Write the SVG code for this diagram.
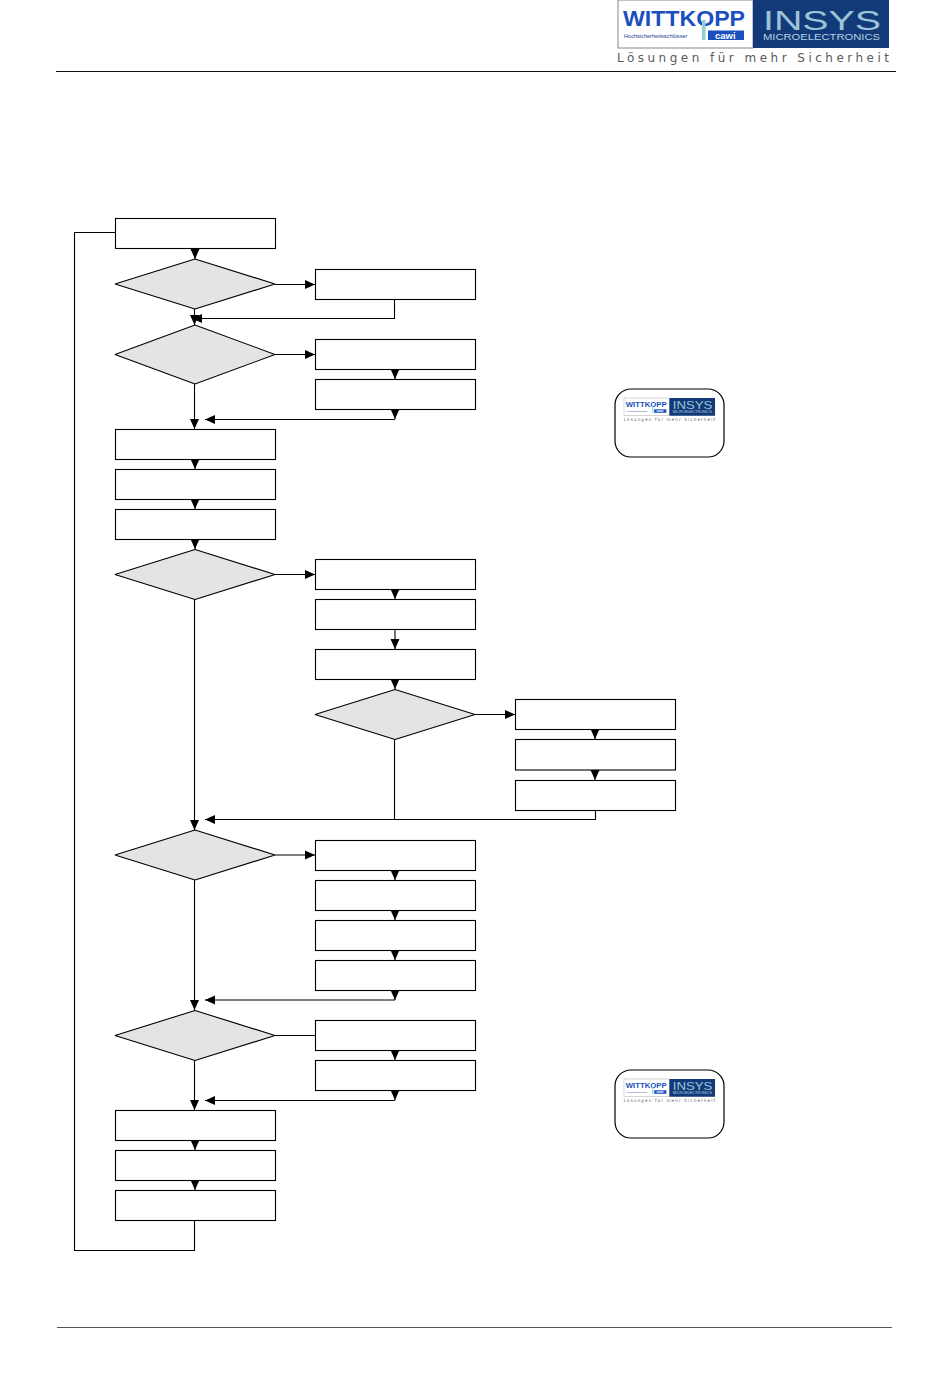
<svg xmlns="http://www.w3.org/2000/svg" width="950" height="1398" viewBox="0 0 950 1398">
<style>
.box{fill:#fff;stroke:#000;stroke-width:1.1}
.dec{fill:#e4e4e4;stroke:#000;stroke-width:1.1;stroke-linejoin:bevel}
.card{fill:#fff;stroke:#000;stroke-width:1.2}
.rule{stroke:#111;stroke-width:1.1;fill:none}
#conn path{fill:none;stroke:#000;stroke-width:1.1}
.a{marker-end:url(#arrow)}
.wit{font:bold 21.500px "Liberation Sans",Arial,sans-serif;fill:#1a4fc0}
.hoch{font:5.600px "Liberation Sans",Arial,sans-serif;fill:#24408a}
.cawi{font:bold 9.500px "Liberation Sans",Arial,sans-serif;fill:#fff}
.ins{font:27px "Liberation Sans",Arial,sans-serif;fill:#9cc3d8}
.mic{font:8.400px "Liberation Sans",Arial,sans-serif;fill:#b5d2e4}
.tag{font:12px "DejaVu Sans",Verdana,sans-serif;fill:#5a5a5a}
</style>
<defs>
<marker id="arrow" markerUnits="userSpaceOnUse" markerWidth="10" markerHeight="10" refX="10" refY="5" orient="auto">
<path d="M0 .5L10 5L0 9.500z" fill="#000"/>
</marker>
<g id="logo">
<rect x="0" y="0" width="135" height="48" fill="#fff" stroke="#8a8a8a"/>
<rect x="135" y="0" width="136" height="48" fill="#123a78"/>
<text class="wit" x="5" y="25.500" textLength="122" lengthAdjust="spacingAndGlyphs">WITTKOPP</text>
<rect x="84" y="20" width="3.500" height="20" fill="#8fd0d0"/>
<text class="hoch" x="6" y="38">Hochsicherheitsschlösser</text>
<rect x="90" y="30.500" width="36" height="9.500" fill="#1a4fc0"/>
<text class="cawi" x="97" y="38.500">cawi</text>
<text class="ins" x="145" y="29.500" textLength="118" lengthAdjust="spacingAndGlyphs">INSYS</text>
<text class="mic" x="145" y="39.500" textLength="117" lengthAdjust="spacingAndGlyphs">MICROELECTRONICS</text>
<text class="tag" x="-1" y="62" textLength="272" lengthAdjust="spacing">Lösungen für mehr Sicherheit</text>
</g>
</defs>
<rect width="950" height="1398" fill="#fff"/>
<g id="header">
<use href="#logo" x="618" y="0"/>
<path class="rule" d="M56 71.500H896"/>
<path class="rule" d="M57 1327.500H892" style="stroke:#555"/>
</g>
<g id="conn">
<path class="a" d="M195 248.500V259"/>
<path class="a" d="M275 284.500H315"/>
<path class="a" d="M394.500 299V318.500H192"/>
<path class="a" d="M194.500 309V325"/>
<path class="a" d="M275 354.500H315"/>
<path class="a" d="M395 369V379"/>
<path class="a" d="M395 409V419"/>
<path class="a" d="M395 419.500H205"/>
<path class="a" d="M194.500 384V429"/>
<path class="a" d="M195 459V469"/>
<path class="a" d="M195 499V509"/>
<path class="a" d="M195 539V549"/>
<path class="a" d="M275 574.500H315"/>
<path class="a" d="M395 589V599"/>
<path class="a" d="M395 629V649"/>
<path class="a" d="M395 679V689"/>
<path class="a" d="M475 714.500H515"/>
<path class="a" d="M595 729V739"/>
<path class="a" d="M595 770V780"/>
<path d="M394.500 739V819.500"/>
<path class="a" d="M595.500 810V819.500H205"/>
<path class="a" d="M194.500 599V830"/>
<path class="a" d="M275 855H315"/>
<path class="a" d="M395 870V880"/>
<path class="a" d="M395 910V920"/>
<path class="a" d="M395 950V960"/>
<path class="a" d="M395 990V1000"/>
<path class="a" d="M395 1000H205"/>
<path class="a" d="M194.500 880V1010"/>
<path d="M275 1035.500H315"/>
<path class="a" d="M395 1050V1060"/>
<path class="a" d="M395 1090V1100"/>
<path class="a" d="M395 1100.500H205"/>
<path class="a" d="M194.500 1060V1110"/>
<path class="a" d="M195 1140V1150"/>
<path class="a" d="M195 1180V1190"/>
<path d="M194.500 1220V1250.500H74.500V232.500H115"/>
</g>
<g id="n1"><rect class="box" x="115.500" y="218.500" width="160" height="30"/></g>
<g id="d1"><path class="dec" d="M115 284L195 259L275 284L195 309z"/></g>
<g id="n2"><rect class="box" x="315.500" y="269.500" width="160" height="30"/></g>
<g id="d2"><path class="dec" d="M115 354.500L195 325L275 354.500L195 384z"/></g>
<g id="n3"><rect class="box" x="315.500" y="339.500" width="160" height="30"/></g>
<g id="n4"><rect class="box" x="315.500" y="379.500" width="160" height="30"/></g>
<g id="n5"><rect class="box" x="115.500" y="429.500" width="160" height="30"/></g>
<g id="n6"><rect class="box" x="115.500" y="469.500" width="160" height="30"/></g>
<g id="n7"><rect class="box" x="115.500" y="509.500" width="160" height="30"/></g>
<g id="d3"><path class="dec" d="M115 574.500L195 549.500L275 574.500L195 599.500z"/></g>
<g id="n8"><rect class="box" x="315.500" y="559.500" width="160" height="30"/></g>
<g id="n9"><rect class="box" x="315.500" y="599.500" width="160" height="30"/></g>
<g id="n10"><rect class="box" x="315.500" y="649.500" width="160" height="30"/></g>
<g id="d4"><path class="dec" d="M315 714.500L395 689.500L475 714.500L395 739.500z"/></g>
<g id="n11"><rect class="box" x="515.500" y="699.500" width="160" height="30"/></g>
<g id="n12"><rect class="box" x="515.500" y="739.500" width="160" height="30.500"/></g>
<g id="n13"><rect class="box" x="515.500" y="780.500" width="160" height="30"/></g>
<g id="d5"><path class="dec" d="M115 855L195 830L275 855L195 880z"/></g>
<g id="n14"><rect class="box" x="315.500" y="840.500" width="160" height="30"/></g>
<g id="n15"><rect class="box" x="315.500" y="880.500" width="160" height="30"/></g>
<g id="n16"><rect class="box" x="315.500" y="920.500" width="160" height="30"/></g>
<g id="n17"><rect class="box" x="315.500" y="960.500" width="160" height="30"/></g>
<g id="d6"><path class="dec" d="M115 1035.500L195 1010.500L275 1035.500L195 1060.500z"/></g>
<g id="n18"><rect class="box" x="315.500" y="1020.500" width="160" height="30"/></g>
<g id="n19"><rect class="box" x="315.500" y="1060.500" width="160" height="30"/></g>
<g id="n20"><rect class="box" x="115.500" y="1110.500" width="160" height="30"/></g>
<g id="n21"><rect class="box" x="115.500" y="1150.500" width="160" height="30"/></g>
<g id="n22"><rect class="box" x="115.500" y="1190.500" width="160" height="30"/></g>
<g id="card1"><rect class="card" x="615" y="389" width="109" height="68" rx="16"/><use href="#logo" transform="translate(624 398) scale(.336 .37)"/></g>
<g id="card2"><rect class="card" x="615" y="1070" width="109" height="68" rx="16"/><use href="#logo" transform="translate(624 1079) scale(.336 .37)"/></g>
</svg>
